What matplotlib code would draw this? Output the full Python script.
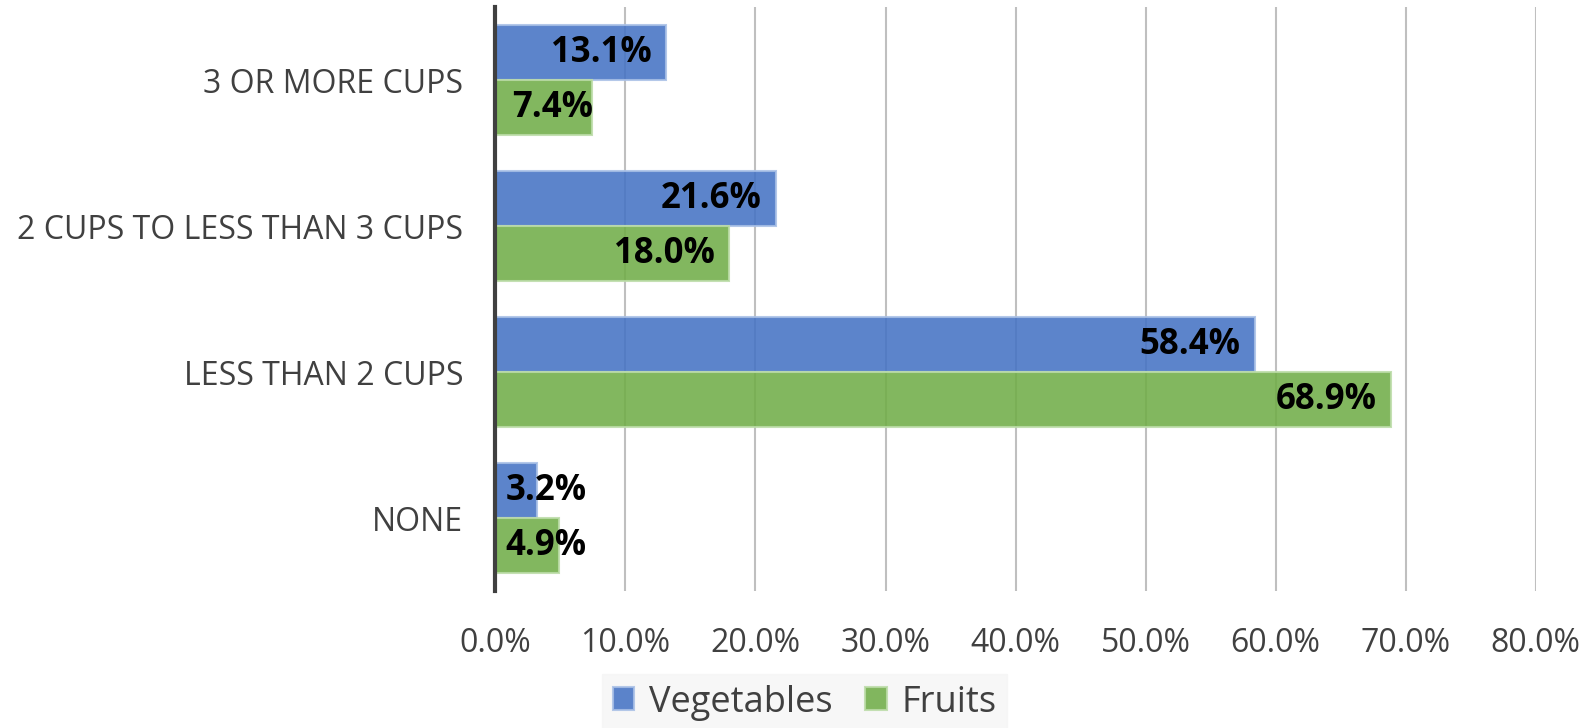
import matplotlib.pyplot as plt
import numpy as np

plt.rcParams['font.family'] = ['Open Sans', 'DejaVu Sans']

categories = ['NONE', 'LESS THAN 2 CUPS', '2 CUPS TO LESS THAN 3 CUPS', '3 OR MORE CUPS']
vegetables = [3.2, 58.4, 21.6, 13.1]
fruits = [4.9, 68.9, 18.0, 7.4]
xticks = [0, 10, 20, 30, 40, 50, 60, 70, 80]

blue = '#4472C4'
green = '#70AD47'

fig = plt.figure(figsize=(15.93, 7.28), dpi=100)
ax = fig.add_axes([0.311, 0.188, 0.653, 0.802])

y = np.arange(len(categories))
h = 0.377

ax.set_axisbelow(True)
ax.grid(axis='x', color='#bfbfbf', linewidth=1.5)
b1 = ax.barh(y + h / 2, vegetables, h, color=blue, alpha=0.87,
             edgecolor='#a9c0e6', linewidth=1.5, label='Vegetables')
b2 = ax.barh(y - h / 2, fruits, h, color=green, alpha=0.87,
             edgecolor='#bcdca8', linewidth=1.5, label='Fruits')

# data labels: inside end, pushed to the bar start when the bar is short
for vals, yy in [(vegetables, y + h / 2), (fruits, y - h / 2)]:
    for v, yi in zip(vals, yy):
        if v >= 10:
            ax.text(v - 1.1, yi, f'{v:.1f}%', ha='right', va='center',
                    fontsize=25, fontweight='bold', color='black')
        else:
            ax.text(0.8 if v < 6 else 1.3, yi, f'{v:.1f}%', ha='left', va='center',
                    fontsize=25, fontweight='bold', color='black')

ax.set_xlim(0, 80)
ax.set_ylim(-0.5, 3.5)
ax.set_xticks(xticks)
ax.set_xticklabels([f'{t:.1f}%' for t in xticks])
ax.set_yticks(y)
ax.set_yticklabels(categories)
ax.tick_params(axis='both', length=0, labelsize=23, labelcolor='#404040')
ax.tick_params(axis='x', pad=26)
ax.tick_params(axis='y', pad=23)

for s in ['top', 'right', 'bottom']:
    ax.spines[s].set_visible(False)
ax.spines['left'].set_color('#404040')
ax.spines['left'].set_linewidth(3)

leg = fig.legend(handles=[b1, b2], loc='center', bbox_to_anchor=(0.505, 0.035),
                 ncol=2, frameon=True, fontsize=26, handlelength=0.6,
                 handleheight=0.6, handletextpad=0.4, columnspacing=0.9,
                 borderpad=0.3, labelcolor='#404040')
leg.get_frame().set_facecolor('#f5f5f5')
leg.get_frame().set_edgecolor('#f5f5f5')
leg.get_frame().set_boxstyle('square', pad=0)
for hd in leg.legend_handles:
    hd.set_alpha(0.87)

fig.savefig('out.png', dpi=100)
